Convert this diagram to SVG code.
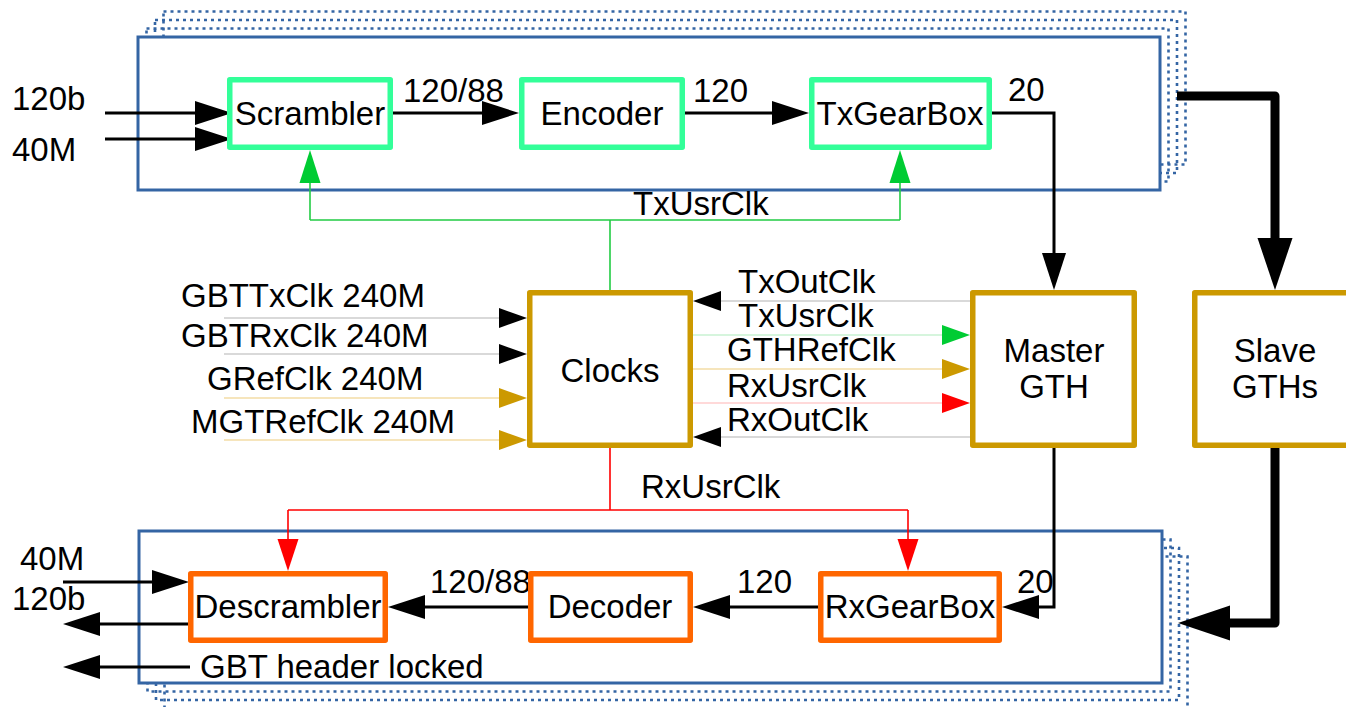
<svg xmlns="http://www.w3.org/2000/svg" width="1346" height="707" viewBox="0 0 1346 707">
<style>
text{font-family:"Liberation Sans",Arial,sans-serif;font-size:33px;fill:#000}
.mid{text-anchor:middle}
.frame{fill:#fff;stroke:#3465a4;stroke-width:3}
.dot{fill:none;stroke:#3465a4;stroke-width:2.6;stroke-dasharray:3 4}
.tx{fill:#fff;stroke:#33ff99;stroke-width:5.5;stroke-linejoin:round}
.rx{fill:#fff;stroke:#ff6600;stroke-width:5.5;stroke-linejoin:round}
.gt{fill:#fff;stroke:#cc9900;stroke-width:5.5;stroke-linejoin:round}
.data{fill:none;stroke:#000;stroke-width:3}
.thick{fill:none;stroke:#000;stroke-width:9;stroke-linejoin:round}
.grn{fill:none;stroke:#22cc44;stroke-width:1.6}
.red{fill:none;stroke:#ff0000;stroke-width:1.6}
.cg{fill:none;stroke:#cccccc;stroke-width:1.4}
.cy{fill:none;stroke:#f3dca6;stroke-width:1.4}
.cgr{fill:none;stroke:#c8f2d2;stroke-width:1.4}
.cr{fill:none;stroke:#ffcccc;stroke-width:1.4}
</style>
<defs>
<marker id="aBig" markerUnits="userSpaceOnUse" markerWidth="37" markerHeight="24" refX="0" refY="12" orient="auto" overflow="visible"><path d="M0,0 L37,12 L0,24 z" fill="#000"/></marker>
<marker id="aThick" markerUnits="userSpaceOnUse" markerWidth="52" markerHeight="35" refX="0" refY="17.5" orient="auto" overflow="visible"><path d="M0,0 L52,17.5 L0,35 z" fill="#000"/></marker>
<marker id="aBlk" markerUnits="userSpaceOnUse" markerWidth="28" markerHeight="20" refX="0" refY="10" orient="auto" overflow="visible"><path d="M0,0 L28,10 L0,20 z" fill="#000"/></marker>
<marker id="aYel" markerUnits="userSpaceOnUse" markerWidth="28" markerHeight="20" refX="0" refY="10" orient="auto" overflow="visible"><path d="M0,0 L28,10 L0,20 z" fill="#cc9900"/></marker>
<marker id="aGrnS" markerUnits="userSpaceOnUse" markerWidth="28" markerHeight="20" refX="0" refY="10" orient="auto" overflow="visible"><path d="M0,0 L28,10 L0,20 z" fill="#00cc33"/></marker>
<marker id="aRedS" markerUnits="userSpaceOnUse" markerWidth="28" markerHeight="20" refX="0" refY="10" orient="auto" overflow="visible"><path d="M0,0 L28,10 L0,20 z" fill="#ff0000"/></marker>
<marker id="aGrn" markerUnits="userSpaceOnUse" markerWidth="33" markerHeight="21" refX="0" refY="10.5" orient="auto" overflow="visible"><path d="M0,0 L33,10.5 L0,21 z" fill="#00cc33"/></marker>
<marker id="aRed" markerUnits="userSpaceOnUse" markerWidth="32" markerHeight="21" refX="0" refY="10.5" orient="auto" overflow="visible"><path d="M0,0 L32,10.5 L0,21 z" fill="#ff0000"/></marker>
</defs>

<g id="tx-frame">
<rect class="dot" x="163.5" y="11.5" width="1022" height="153"/>
<rect class="dot" x="155" y="20" width="1022" height="153"/>
<rect class="dot" x="146.5" y="28.5" width="1022" height="153"/>
<rect class="frame" x="138" y="37" width="1022" height="153"/>
</g>
<g id="rx-frame">
<rect class="dot" x="164.5" y="556.5" width="1023" height="152"/>
<rect class="dot" x="156" y="548" width="1023" height="152"/>
<rect class="dot" x="147.5" y="539.5" width="1023" height="152"/>
<rect class="frame" x="139" y="531" width="1023" height="152"/>
</g>

<g id="connectors">
<path class="data" d="M105,113 H195" marker-end="url(#aBig)"/>
<path class="data" d="M105,139 H195" marker-end="url(#aBig)"/>
<path class="data" d="M393,113 H482" marker-end="url(#aBig)"/>
<path class="data" d="M685,113 H772" marker-end="url(#aBig)"/>
<path class="data" d="M992,113 H1054 V253" marker-end="url(#aBig)"/>
<path class="thick" d="M1177,96 H1275 V238" marker-end="url(#aThick)"/>
<path class="thick" d="M1275,448 V623 H1230" marker-end="url(#aThick)"/>
<path class="data" d="M1054,448 V607 H1039" marker-end="url(#aBig)"/>
<path class="data" d="M818,607 H730" marker-end="url(#aBig)"/>
<path class="data" d="M528,607 H425" marker-end="url(#aBig)"/>
<path class="data" d="M63,582 H152" marker-end="url(#aBig)"/>
<path class="data" d="M188,624 H100" marker-end="url(#aBig)"/>
<path class="data" d="M190,667 H100" marker-end="url(#aBig)"/>
<path class="grn" d="M610,290 V220 M310,220 H900"/>
<path class="grn" d="M310,220 V183" marker-end="url(#aGrn)"/>
<path class="grn" d="M900,220 V183" marker-end="url(#aGrn)"/>
<path class="red" d="M610,448 V510 M288,510 H908"/>
<path class="red" d="M288,510 V539" marker-end="url(#aRed)"/>
<path class="red" d="M908,510 V539" marker-end="url(#aRed)"/>
<path class="cg" d="M224,318 H499" marker-end="url(#aBlk)"/>
<path class="cg" d="M224,354 H499" marker-end="url(#aBlk)"/>
<path class="cy" d="M224,398 H499" marker-end="url(#aYel)"/>
<path class="cy" d="M224,440 H499" marker-end="url(#aYel)"/>
<path class="cg" d="M970,301 H721" marker-end="url(#aBlk)"/>
<path class="cgr" d="M693,335 H942" marker-end="url(#aGrnS)"/>
<path class="cy" d="M693,369 H942" marker-end="url(#aYel)"/>
<path class="cr" d="M693,403 H942" marker-end="url(#aRedS)"/>
<path class="cg" d="M970,437 H721" marker-end="url(#aBlk)"/>
</g>

<g id="labels">
<text x="12" y="110">120b</text>
<text x="12" y="161">40M</text>
<text x="403" y="102">120/88</text>
<text x="693" y="102">120</text>
<text x="1008" y="101">20</text>
<text x="633" y="215">TxUsrClk</text>
<text x="181" y="307">GBTTxClk 240M</text>
<text x="181" y="347">GBTRxClk 240M</text>
<text x="207" y="390">GRefClk 240M</text>
<text x="191" y="433">MGTRefClk 240M</text>
<text x="738" y="293">TxOutClk</text>
<text x="738" y="327">TxUsrClk</text>
<text x="727" y="361">GTHRefClk</text>
<text x="727" y="397">RxUsrClk</text>
<text x="727" y="431">RxOutClk</text>
<text x="641" y="498">RxUsrClk</text>
<text x="20" y="570">40M</text>
<text x="12" y="610">120b</text>
<text x="430" y="593">120/88</text>
<text x="737" y="593">120</text>
<text x="1017" y="593">20</text>
<text x="200" y="678">GBT header locked</text>
</g>

<g id="scrambler"><rect class="tx" x="229.75" y="79.75" width="160.5" height="67.5"/><text class="mid" x="310" y="125">Scrambler</text></g>
<g id="encoder"><rect class="tx" x="521.75" y="79.75" width="160.5" height="67.5"/><text class="mid" x="602" y="125">Encoder</text></g>
<g id="txgearbox"><rect class="tx" x="811.75" y="79.75" width="177.5" height="67.5"/><text class="mid" x="900" y="125">TxGearBox</text></g>
<g id="clocks"><rect class="gt" x="529.75" y="292.75" width="160.5" height="152.5"/><text class="mid" x="610" y="382">Clocks</text></g>
<g id="master-gth"><rect class="gt" x="972.75" y="292.75" width="161.5" height="152.5"/><text class="mid" x="1054" y="362">Master</text><text class="mid" x="1054" y="398">GTH</text></g>
<g id="slave-gths"><rect class="gt" x="1194.75" y="292.75" width="170" height="152.5"/><text class="mid" x="1275" y="362">Slave</text><text class="mid" x="1275" y="398">GTHs</text></g>
<g id="descrambler"><rect class="rx" x="190.75" y="573.75" width="194.5" height="66.5"/><text class="mid" x="288" y="618">Descrambler</text></g>
<g id="decoder"><rect class="rx" x="530.75" y="573.75" width="159.5" height="66.5"/><text class="mid" x="610" y="618">Decoder</text></g>
<g id="rxgearbox"><rect class="rx" x="820.75" y="573.75" width="178.5" height="66.5"/><text class="mid" x="910" y="618">RxGearBox</text></g>
</svg>
